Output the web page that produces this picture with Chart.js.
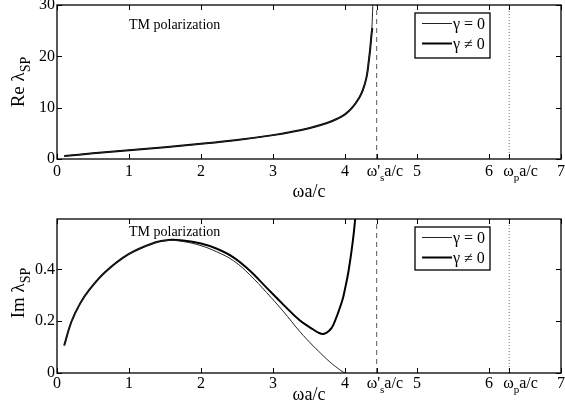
<!DOCTYPE html>
<html>
<head>
<meta charset="utf-8">
<script src="https://cdn.jsdelivr.net/npm/chart.js@4.4.0/dist/chart.umd.min.js"></script>
<style>
html, body { margin: 0; padding: 0; background: #fff; }
#wrap { position: relative; width: 565px; height: 417px; }
.pane { position: absolute; left: 0; width: 565px; }
</style>
</head>
<body>
<div id="wrap">
  <div class="pane" style="top:0;height:210px"><canvas id="reChart"></canvas></div>
  <div class="pane" style="top:210px;height:207px"><canvas id="imChart"></canvas></div>
</div>
<script>
// axes
const xTicks = [0, 1, 2, 3, 4, 5, 6, 7];
const omegaS = 4.44;   // ω'_s a/c
const omegaP = 6.28;   // ω_p a/c
const reYTicks = [0, 10, 20, 30];
const imYTicks = [0, 0.2, 0.4];

// Re λ_SP
const reOmega    = [0.1, 0.5, 1, 1.5, 2, 2.5, 3, 3.25, 3.5, 3.75, 3.9, 4.0, 4.1, 4.2, 4.25, 4.3, 4.33, 4.35, 4.37, 4.38, 4.39];
const reLossless = [0.58, 1.1, 1.72, 2.3, 2.95, 3.7, 4.65, 5.25, 6.0, 7.0, 7.9, 8.7, 10.0, 12.0, 13.5, 16, 19, 21.5, 24.8, 27.5, 32];
const reLossy    = [0.58, 1.1, 1.72, 2.3, 2.95, 3.7, 4.65, 5.25, 6.0, 7.0, 7.9, 8.7, 10.0, 12.0, 13.5, 16, 19, 21.5, 24.5, 25.5, null];

// Im λ_SP
const imOmega    = [0.1, 0.2, 0.32, 0.44, 0.67, 1.0, 1.36, 1.55, 1.75, 2.0, 2.22, 2.45, 2.68, 2.91, 3.14, 3.37, 3.56, 3.63, 3.70, 3.78, 3.84, 3.96, 4.0, 4.05, 4.11, 4.15];
const imLossless = [0.106, 0.198, 0.268, 0.318, 0.39, 0.46, 0.503, 0.512, 0.508, 0.492, 0.468, 0.434, 0.379, 0.311, 0.239, 0.161, 0.104, 0.085, 0.066, 0.045, 0.031, 0.006, 0, null, null, null];
const imLossy    = [0.106, 0.198, 0.268, 0.318, 0.39, 0.46, 0.504, 0.514, 0.512, 0.5, 0.48, 0.447, 0.395, 0.33, 0.265, 0.204, 0.168, 0.156, 0.151, 0.163, 0.187, 0.278, 0.325, 0.395, 0.512, 0.62];

const serif = '"Liberation Serif", "Times New Roman", serif';

function toPoints(xs, ys) {
    return xs.map((x, i) => ({ x: x, y: ys[i] })).filter(p => p.y !== null);
}

function curve(xs, ys, width, color) {
    return {
        data: toPoints(xs, ys),
        borderColor: color,
        borderWidth: width,
        pointRadius: 0,
        tension: 0.4,
        fill: false
    };
}

function vline(x, top, dash, color) {
    return {
        data: [{ x: x, y: 0 }, { x: x, y: top }],
        borderColor: color,
        borderWidth: 1,
        borderDash: dash,
        pointRadius: 0,
        fill: false
    };
}

// draw text made of pieces, some of them subscripts; returns width
function drawParts(ctx, x, y, parts, size, subSize, measureOnly) {
    let w = 0;
    parts.forEach(p => {
        ctx.font = (p.sub ? subSize : size) + 'px ' + serif;
        if (!measureOnly) ctx.fillText(p.t, x + w, y + (p.sub ? size * 0.3 : 0));
        w += ctx.measureText(p.t).width;
    });
    return w;
}

function makeFrame(cfg) {
    return {
        id: 'frame',
        afterDraw(chart) {
            const ctx = chart.ctx;
            const a = chart.chartArea;
            const xs = chart.scales.x, ys = chart.scales.y;
            ctx.save();
            ctx.strokeStyle = '#000';
            ctx.lineWidth = 1;
            // inward ticks
            ctx.beginPath();
            [...xTicks, omegaS, omegaP].forEach(v => {
                const px = Math.round(xs.getPixelForValue(v)) + 0.5;
                ctx.moveTo(px, a.bottom); ctx.lineTo(px, a.bottom - 5);
                ctx.moveTo(px, a.top); ctx.lineTo(px, a.top + 5);
            });
            cfg.yTicks.forEach(v => {
                const py = Math.round(ys.getPixelForValue(v)) + 0.5;
                ctx.moveTo(a.left, py); ctx.lineTo(a.left + 5, py);
                ctx.moveTo(a.right, py); ctx.lineTo(a.right - 5, py);
            });
            ctx.stroke();
            // box
            ctx.lineWidth = 1.3;
            ctx.strokeRect(a.left, a.top, a.right - a.left, a.bottom - a.top);

            ctx.fillStyle = '#000';
            ctx.textBaseline = 'alphabetic';
            ctx.textAlign = 'left';
            // special tick labels
            const base = a.bottom + cfg.tickBase;
            drawParts(ctx, xs.getPixelForValue(omegaS) - 10, base,
                [{ t: 'ω\'' }, { t: 's', sub: true }, { t: 'a/c' }], 16, 11);
            drawParts(ctx, xs.getPixelForValue(omegaP) - 6, base,
                [{ t: 'ω' }, { t: 'p', sub: true }, { t: 'a/c' }], 16, 11);

            // x title
            ctx.font = '18px ' + serif;
            ctx.textAlign = 'center';
            ctx.fillText('ωa/c', (a.left + a.right) / 2, a.bottom + cfg.xTitleBase);

            // y title
            ctx.textAlign = 'left';
            const yParts = [{ t: cfg.yTitle + ' λ' }, { t: 'SP', sub: true }];
            const w = drawParts(ctx, 0, 0, yParts, 19, 14, true);
            ctx.save();
            ctx.translate(24, (a.top + a.bottom) / 2 + cfg.yTitleShift);
            ctx.rotate(-Math.PI / 2);
            drawParts(ctx, -w / 2, 0, yParts, 19, 14);
            ctx.restore();

            // annotation
            ctx.font = '14px ' + serif;
            ctx.textBaseline = 'middle';
            ctx.fillText('TM polarization', 129, a.top + cfg.noteOffset);

            // legend
            const lx = 415, ly = a.top + 8, lw = 75, lh = cfg.legendH;
            ctx.fillStyle = '#fff';
            ctx.fillRect(lx, ly, lw, lh);
            ctx.lineWidth = 1.3;
            ctx.strokeStyle = '#000';
            ctx.strokeRect(lx, ly, lw, lh);
            const rows = [
                { label: 'γ = 0', ds: chart.data.datasets[0] },
                { label: 'γ ≠ 0', ds: chart.data.datasets[1] }
            ];
            rows.forEach((r, i) => {
                const ry = ly + 10.5 + i * 20;
                ctx.beginPath();
                ctx.strokeStyle = r.ds.borderColor;
                ctx.lineWidth = r.ds.borderWidth;
                ctx.moveTo(422, ry); ctx.lineTo(452, ry);
                ctx.stroke();
                ctx.fillStyle = '#000';
                ctx.font = '16px ' + serif;
                ctx.fillText(r.label, 453, ry + 1);
            });
            ctx.restore();
        }
    };
}

function makeChart(id, cfg) {
    const yMax = cfg.yMax;
    return new Chart(document.getElementById(id), {
        type: 'line',
        data: {
            datasets: [
                curve(cfg.xs, cfg.lossless, 1, '#222'),
                curve(cfg.xs, cfg.lossy, 2, '#000'),
                vline(omegaS, yMax, [5, 4], '#555'),
                vline(omegaP, yMax, [1, 2], '#777')
            ]
        },
        options: {
            responsive: true,
            maintainAspectRatio: false,
            animation: false,
            events: [],
            layout: { padding: { top: cfg.padTop, right: 4, left: 0, bottom: 0 } },
            plugins: { legend: { display: false }, tooltip: { enabled: false } },
            scales: {
                x: {
                    type: 'linear',
                    min: 0, max: 7,
                    grid: { display: false, drawTicks: false },
                    border: { display: false },
                    afterBuildTicks: s => { s.ticks = xTicks.map(v => ({ value: v })); },
                    afterFit: s => { s.height = cfg.xAxisH; s.paddingLeft = 0; s.paddingRight = 0; },
                    ticks: {
                        autoSkip: false, maxRotation: 0, padding: cfg.xTickPad,
                        color: '#000', font: { family: serif, size: 16 },
                        callback: v => String(v)
                    }
                },
                y: {
                    type: 'linear',
                    min: 0, max: yMax,
                    grid: { display: false, drawTicks: false },
                    border: { display: false },
                    afterBuildTicks: s => { s.ticks = cfg.yTicks.map(v => ({ value: v })); },
                    afterFit: s => { s.width = 57; s.paddingTop = 0; s.paddingBottom = 0; },
                    ticks: {
                        padding: 2, color: '#000', font: { family: serif, size: 16 },
                        callback: v => String(v)
                    }
                }
            }
        },
        plugins: [makeFrame(cfg)]
    });
}

makeChart('reChart', {
    xs: reOmega, lossless: reLossless, lossy: reLossy,
    yMax: 30, yTicks: reYTicks, yTitle: 'Re',
    padTop: 5, xAxisH: 51, xTickPad: 3, tickBase: 17, xTitleBase: 38,
    yTitleShift: 0, noteOffset: 20.5, legendH: 45
});

makeChart('imChart', {
    xs: imOmega, lossless: imLossless, lossy: imLossy,
    yMax: 0.595, yTicks: imYTicks, yTitle: 'Im',
    padTop: 9, xAxisH: 44, xTickPad: 1, tickBase: 15, xTitleBase: 27,
    yTitleShift: -3, noteOffset: 13, legendH: 43
});
</script>
</body>
</html>
